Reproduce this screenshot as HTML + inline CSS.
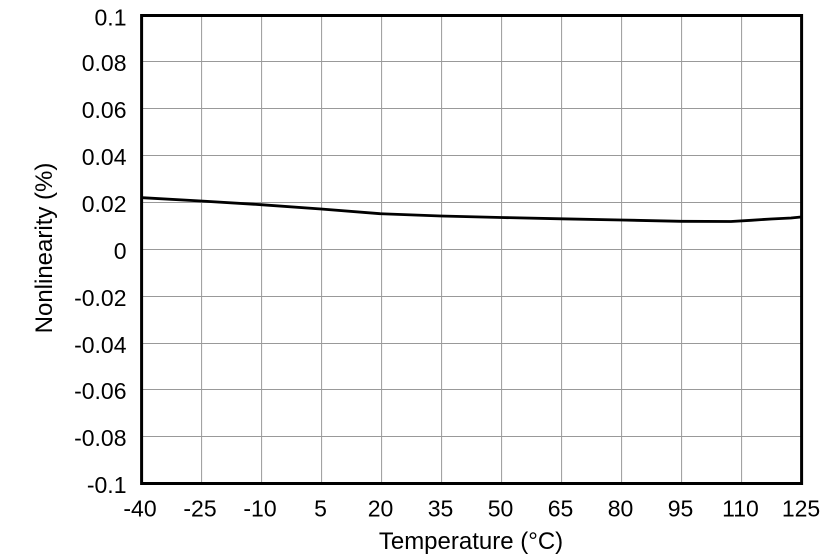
<!DOCTYPE html>
<html><head><meta charset="utf-8"><style>
html,body{margin:0;padding:0;background:#fff;}
svg{display:block;}
text{font-family:"Liberation Sans",Arial,sans-serif;fill:#000;}
</style></head><body>
<svg width="839" height="559" viewBox="0 0 839 559" xmlns="http://www.w3.org/2000/svg">
<rect x="0" y="0" width="839" height="559" fill="#fff"/>
<g stroke="#999" stroke-width="1" fill="none">
<line x1="201.6" y1="15.5" x2="201.6" y2="483.5"/>
<line x1="261.6" y1="15.5" x2="261.6" y2="483.5"/>
<line x1="321.6" y1="15.5" x2="321.6" y2="483.5"/>
<line x1="381.6" y1="15.5" x2="381.6" y2="483.5"/>
<line x1="441.6" y1="15.5" x2="441.6" y2="483.5"/>
<line x1="501.6" y1="15.5" x2="501.6" y2="483.5"/>
<line x1="561.6" y1="15.5" x2="561.6" y2="483.5"/>
<line x1="621.6" y1="15.5" x2="621.6" y2="483.5"/>
<line x1="681.6" y1="15.5" x2="681.6" y2="483.5"/>
<line x1="741.6" y1="15.5" x2="741.6" y2="483.5"/>
<line x1="141.6" y1="61.5" x2="801.6" y2="61.5"/>
<line x1="141.6" y1="108.5" x2="801.6" y2="108.5"/>
<line x1="141.6" y1="155.5" x2="801.6" y2="155.5"/>
<line x1="141.6" y1="202.5" x2="801.6" y2="202.5"/>
<line x1="141.6" y1="249.5" x2="801.6" y2="249.5"/>
<line x1="141.6" y1="296.5" x2="801.6" y2="296.5"/>
<line x1="141.6" y1="343.5" x2="801.6" y2="343.5"/>
<line x1="141.6" y1="389.5" x2="801.6" y2="389.5"/>
<line x1="141.6" y1="436.5" x2="801.6" y2="436.5"/>
</g>
<polyline fill="none" stroke="#000" stroke-width="2.8" stroke-linejoin="round" points="142,197.7 201,201 261,204.7 321,209 380,213.7 441,216 501,217.5 561,218.8 621,220 681,221.3 731,221.5 751,220.3 771,219 791,218 801,217"/>
<rect x="141.6" y="15.5" width="660" height="468" fill="none" stroke="#000" stroke-width="3"/>
<g font-size="23" text-anchor="end">
<text x="126.5" y="25.5">0.1</text>
<text x="126.5" y="71">0.08</text>
<text x="126.5" y="118">0.06</text>
<text x="126.5" y="165">0.04</text>
<text x="126.5" y="212">0.02</text>
<text x="126.5" y="259">0</text>
<text x="126.5" y="306">-0.02</text>
<text x="126.5" y="353">-0.04</text>
<text x="126.5" y="399">-0.06</text>
<text x="126.5" y="446">-0.08</text>
<text x="126.5" y="493">-0.1</text>
</g>
<g font-size="23" text-anchor="middle">
<text x="140" y="516.5">-40</text>
<text x="200" y="516.5">-25</text>
<text x="260" y="516.5">-10</text>
<text x="320.5" y="516.5">5</text>
<text x="380.5" y="516.5">20</text>
<text x="440.5" y="516.5">35</text>
<text x="500.5" y="516.5">50</text>
<text x="560.5" y="516.5">65</text>
<text x="620.5" y="516.5">80</text>
<text x="680.5" y="516.5">95</text>
<text x="740.5" y="516.5">110</text>
<text x="801" y="516.5">125</text>
</g>
<text font-size="24" text-anchor="middle" x="471" y="549">Temperature (°C)</text>
<text font-size="24" text-anchor="middle" transform="translate(52,248) rotate(-90)">Nonlinearity (%)</text>
</svg>
</body></html>
